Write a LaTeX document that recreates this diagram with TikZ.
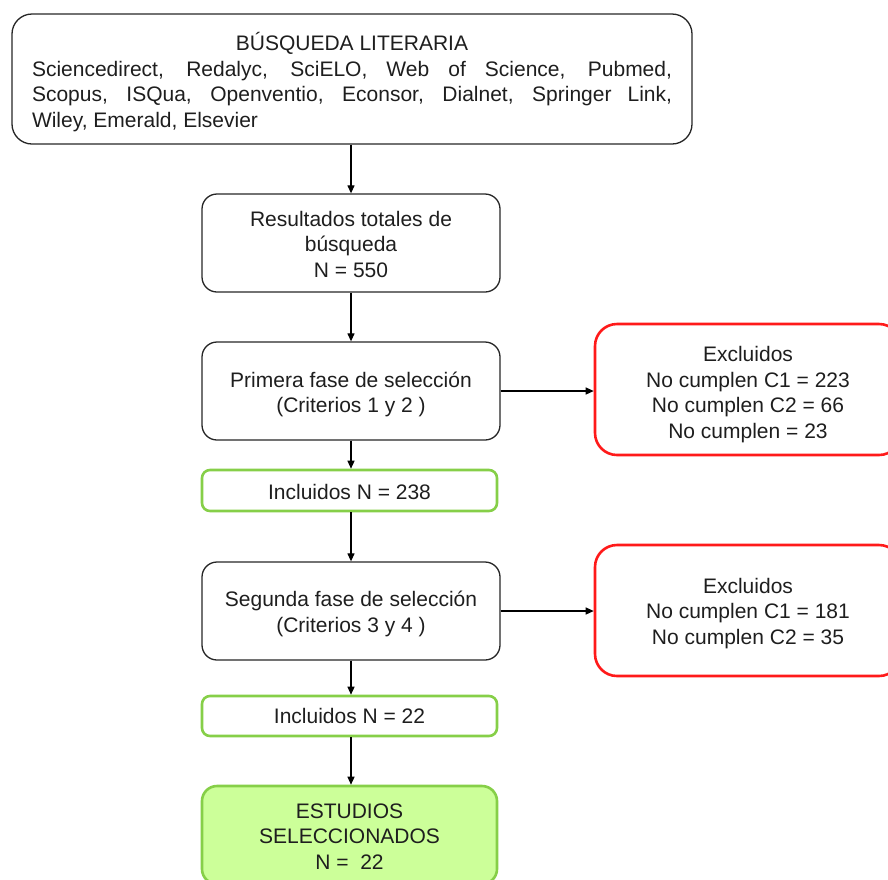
\documentclass[tikz,border=0pt]{standalone}
\usepackage{fontspec}
\setmainfont{Liberation Sans}
\usetikzlibrary{arrows.meta}
\definecolor{incgreen}{HTML}{86CF48}
\definecolor{finfill}{HTML}{CCFF99}
\definecolor{exred}{HTML}{FF1A1A}
\definecolor{txt}{HTML}{1E1E1E}
\tikzset{
  base/.style={draw, rectangle, inner sep=0pt},
  label text/.style={inner sep=0pt, align=center, text=txt,
    font=\fontsize{21}{25.5}\selectfont},
  blackbox/.style={base, draw=black!85, line width=1.3pt, rounded corners=15pt},
  incbox/.style={base, draw=incgreen, line width=2.6pt, rounded corners=8pt},
  finbox/.style={base, draw=incgreen, fill=finfill, line width=2.6pt, rounded corners=15pt},
  exbox/.style={base, draw=exred, line width=2.6pt, rounded corners=22pt},
  arr/.style={draw=black, line width=1.2pt, -{Triangle[length=8pt,width=7pt]}}
}
\begin{document}
\begin{tikzpicture}[x=1pt, y=-1pt]
\path[use as bounding box] (0,0) rectangle (888,879);
\clip (0,0) rectangle (888,879);
% boxes
\node[blackbox, rounded corners=20pt, minimum width=680pt, minimum height=130pt] (top) at (352,79) {};
\node[blackbox, minimum width=298pt, minimum height=98pt] (res) at (351,243) {};
\node[blackbox, minimum width=298pt, minimum height=98pt] (f1) at (351,391) {};
\node[incbox, minimum width=295pt, minimum height=41pt] (inc1) at (349.5,490.5) {};
\node[blackbox, minimum width=298pt, minimum height=98pt] (f2) at (351,611) {};
\node[incbox, minimum width=295pt, minimum height=40pt] (inc2) at (349.5,716) {};
\node[finbox, minimum width=295pt, minimum height=98pt] (fin) at (349.5,835) {};
\node[exbox, minimum width=306pt, minimum height=131pt] (ex1) at (748,389.5) {};
\node[exbox, minimum width=306pt, minimum height=131pt] (ex2) at (748,610.5) {};
% texts
\node[label text, text width=640pt, align=justify] (top-t) at ([yshift=-3pt]top.center)
  {\makebox[640pt]{BÚSQUEDA LITERARIA}\\
   Sciencedirect, Redalyc, SciELO, Web of Science, Pubmed,\linebreak
   Scopus, ISQua, Openventio, Econsor, Dialnet, Springer Link,\linebreak
   Wiley, Emerald, Elsevier};
\node[label text] (res-t) at ([yshift=-1pt]res.center) {Resultados totales de\\búsqueda\\N = 550};
\node[label text] (f1-t) at ([yshift=-3.5pt]f1.center) {Primera fase de selección\\(Criterios 1 y 2 )};
\node[label text] (inc1-t) at ([yshift=-1pt]inc1.center) {Incluidos N = 238};
\node[label text] (f2-t) at ([yshift=-3pt]f2.center) {Segunda fase de selección\\(Criterios 3 y 4 )};
\node[label text] (inc2-t) at (inc2.center) {Incluidos N = 22};
\node[label text] (fin-t) at ([yshift=-1.5pt]fin.center) {ESTUDIOS\\SELECCIONADOS\\N = \ 22};
\node[label text] (ex1-t) at ([yshift=-5pt]ex1.center) {Excluidos\\No cumplen C1 = 223\\No cumplen C2 = 66\\No cumplen = 23};
\node[label text] (ex2-t) at ([yshift=-3pt]ex2.center) {Excluidos\\No cumplen C1 = 181\\No cumplen C2 = 35};
% connectors
\draw[arr] (top.south -| res.north) -- (res.north);
\draw[arr] (res) -- (f1);
\draw[arr] (f1.south) -- (f1.south |- inc1.north);
\draw[arr] (inc1.south -| f1.south) -- (f2.north);
\draw[arr] (f2.south) -- (f2.south |- inc2.north);
\draw[arr] (inc2.south -| f2.south) -- (f2.south |- fin.north);
\draw[arr] (f1.east) -- (f1.east -| ex1.west);
\draw[arr] (f2.east) -- (f2.east -| ex2.west);
\end{tikzpicture}
\end{document}
